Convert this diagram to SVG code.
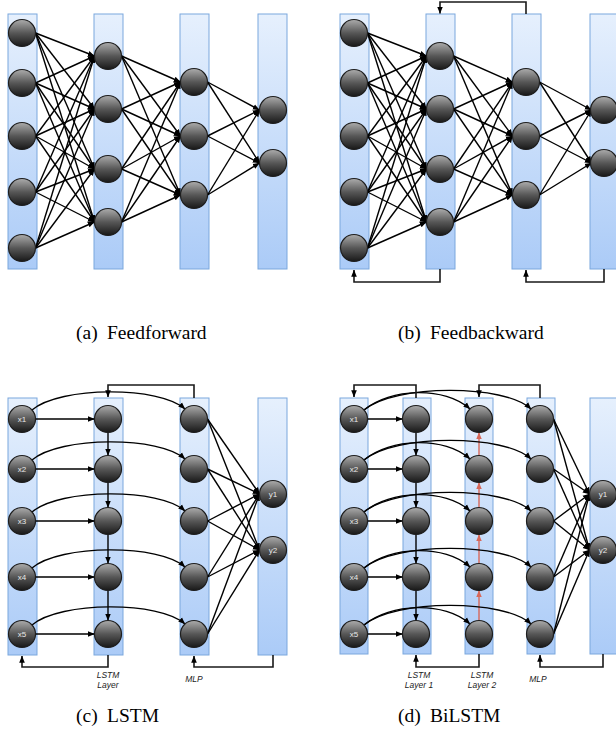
<svg xmlns="http://www.w3.org/2000/svg" width="616" height="733" viewBox="0 0 616 733">
<defs>
<linearGradient id="gBar" x1="0" y1="0" x2="0" y2="1"><stop offset="0" stop-color="#e6f0fd"/><stop offset="1" stop-color="#abcbf7"/></linearGradient>
<linearGradient id="gNode" x1="0" y1="0" x2="0" y2="1"><stop offset="0" stop-color="#acacac"/><stop offset="0.5" stop-color="#575757"/><stop offset="1" stop-color="#181818"/></linearGradient>
<marker id="ah" viewBox="0 0 10 10" refX="9.5" refY="5" markerWidth="7" markerHeight="7" markerUnits="userSpaceOnUse" orient="auto"><path d="M0,1 L10,5 L0,9 z" fill="#000"/></marker>
<marker id="ahr" viewBox="0 0 10 10" refX="9.5" refY="5" markerWidth="7" markerHeight="7" markerUnits="userSpaceOnUse" orient="auto"><path d="M0,1 L10,5 L0,9 z" fill="#d7685a"/></marker>
<style>
.bar{fill:url(#gBar);stroke:#7ba7dd;stroke-width:1}
.nd{fill:url(#gNode);stroke:#1e1e1e;stroke-width:1.2}
.e{stroke:#000;stroke-width:1.4;fill:none;marker-end:url(#ah)}
.er{stroke:#d7685a;stroke-width:1.4;fill:none;marker-end:url(#ahr)}
.fb{stroke:#1a1a1a;stroke-width:1.6;fill:none;marker-end:url(#ah)}
.nt{font-family:"Liberation Sans",Arial,sans-serif;font-size:8px;fill:#e8e8e8;text-anchor:middle}
.lb{font-family:"Liberation Sans",Arial,sans-serif;font-size:8.5px;font-style:italic;fill:#222;text-anchor:middle}
.cap{font-family:"Liberation Serif","Times New Roman",serif;font-size:19.5px;fill:#000}
</style>
</defs>

<!-- Panel (a) -->
<g id="panel-a">
<g id="a-bars">
<rect class="bar" x="8" y="14" width="29" height="255"/>
<rect class="bar" x="94" y="14" width="29" height="255"/>
<rect class="bar" x="180" y="14" width="29" height="255"/>
<rect class="bar" x="258" y="14" width="29" height="255"/>
</g>
<g id="a-edges">
<line class="e" x1="35.5" y1="33" x2="94.5" y2="56"/><line class="e" x1="35.5" y1="33" x2="94.5" y2="109"/><line class="e" x1="35.5" y1="33" x2="94.5" y2="169"/><line class="e" x1="35.5" y1="33" x2="94.5" y2="222"/>
<line class="e" x1="35.5" y1="83" x2="94.5" y2="56"/><line class="e" x1="35.5" y1="83" x2="94.5" y2="109"/><line class="e" x1="35.5" y1="83" x2="94.5" y2="169"/><line class="e" x1="35.5" y1="83" x2="94.5" y2="222"/>
<line class="e" x1="35.5" y1="136" x2="94.5" y2="56"/><line class="e" x1="35.5" y1="136" x2="94.5" y2="109"/><line class="e" x1="35.5" y1="136" x2="94.5" y2="169"/><line class="e" x1="35.5" y1="136" x2="94.5" y2="222"/>
<line class="e" x1="35.5" y1="192" x2="94.5" y2="56"/><line class="e" x1="35.5" y1="192" x2="94.5" y2="109"/><line class="e" x1="35.5" y1="192" x2="94.5" y2="169"/><line class="e" x1="35.5" y1="192" x2="94.5" y2="222"/>
<line class="e" x1="35.5" y1="248" x2="94.5" y2="56"/><line class="e" x1="35.5" y1="248" x2="94.5" y2="109"/><line class="e" x1="35.5" y1="248" x2="94.5" y2="169"/><line class="e" x1="35.5" y1="248" x2="94.5" y2="222"/>
<line class="e" x1="121.5" y1="56" x2="180.5" y2="82"/><line class="e" x1="121.5" y1="56" x2="180.5" y2="136"/><line class="e" x1="121.5" y1="56" x2="180.5" y2="195"/>
<line class="e" x1="121.5" y1="109" x2="180.5" y2="82"/><line class="e" x1="121.5" y1="109" x2="180.5" y2="136"/><line class="e" x1="121.5" y1="109" x2="180.5" y2="195"/>
<line class="e" x1="121.5" y1="169" x2="180.5" y2="82"/><line class="e" x1="121.5" y1="169" x2="180.5" y2="136"/><line class="e" x1="121.5" y1="169" x2="180.5" y2="195"/>
<line class="e" x1="121.5" y1="222" x2="180.5" y2="82"/><line class="e" x1="121.5" y1="222" x2="180.5" y2="136"/><line class="e" x1="121.5" y1="222" x2="180.5" y2="195"/>
<line class="e" x1="207.5" y1="82" x2="259.5" y2="110"/><line class="e" x1="207.5" y1="82" x2="259.5" y2="163"/>
<line class="e" x1="207.5" y1="136" x2="259.5" y2="110"/><line class="e" x1="207.5" y1="136" x2="259.5" y2="163"/>
<line class="e" x1="207.5" y1="195" x2="259.5" y2="110"/><line class="e" x1="207.5" y1="195" x2="259.5" y2="163"/>
</g>
<g id="a-n1"><circle class="nd" cx="22" cy="33" r="13.5"/></g>
<g id="a-n2"><circle class="nd" cx="22" cy="83" r="13.5"/></g>
<g id="a-n3"><circle class="nd" cx="22" cy="136" r="13.5"/></g>
<g id="a-n4"><circle class="nd" cx="22" cy="192" r="13.5"/></g>
<g id="a-n5"><circle class="nd" cx="22" cy="248" r="13.5"/></g>
<g id="a-h1"><circle class="nd" cx="108" cy="56" r="13.5"/></g>
<g id="a-h2"><circle class="nd" cx="108" cy="109" r="13.5"/></g>
<g id="a-h3"><circle class="nd" cx="108" cy="169" r="13.5"/></g>
<g id="a-h4"><circle class="nd" cx="108" cy="222" r="13.5"/></g>
<g id="a-g1"><circle class="nd" cx="194" cy="82" r="13.5"/></g>
<g id="a-g2"><circle class="nd" cx="194" cy="136" r="13.5"/></g>
<g id="a-g3"><circle class="nd" cx="194" cy="195" r="13.5"/></g>
<g id="a-o1"><circle class="nd" cx="273" cy="110" r="13.5"/></g>
<g id="a-o2"><circle class="nd" cx="273" cy="163" r="13.5"/></g>
</g>

<!-- Panel (b) -->
<g id="panel-b" transform="translate(332,0)">
<g id="b-bars">
<rect class="bar" x="8" y="14" width="29" height="255"/>
<rect class="bar" x="94" y="14" width="29" height="255"/>
<rect class="bar" x="180" y="14" width="29" height="255"/>
<rect class="bar" x="258" y="14" width="29" height="255"/>
</g>
<g id="b-edges">
<line class="e" x1="35.5" y1="33" x2="94.5" y2="56"/><line class="e" x1="35.5" y1="33" x2="94.5" y2="109"/><line class="e" x1="35.5" y1="33" x2="94.5" y2="169"/><line class="e" x1="35.5" y1="33" x2="94.5" y2="222"/>
<line class="e" x1="35.5" y1="83" x2="94.5" y2="56"/><line class="e" x1="35.5" y1="83" x2="94.5" y2="109"/><line class="e" x1="35.5" y1="83" x2="94.5" y2="169"/><line class="e" x1="35.5" y1="83" x2="94.5" y2="222"/>
<line class="e" x1="35.5" y1="136" x2="94.5" y2="56"/><line class="e" x1="35.5" y1="136" x2="94.5" y2="109"/><line class="e" x1="35.5" y1="136" x2="94.5" y2="169"/><line class="e" x1="35.5" y1="136" x2="94.5" y2="222"/>
<line class="e" x1="35.5" y1="192" x2="94.5" y2="56"/><line class="e" x1="35.5" y1="192" x2="94.5" y2="109"/><line class="e" x1="35.5" y1="192" x2="94.5" y2="169"/><line class="e" x1="35.5" y1="192" x2="94.5" y2="222"/>
<line class="e" x1="35.5" y1="248" x2="94.5" y2="56"/><line class="e" x1="35.5" y1="248" x2="94.5" y2="109"/><line class="e" x1="35.5" y1="248" x2="94.5" y2="169"/><line class="e" x1="35.5" y1="248" x2="94.5" y2="222"/>
<line class="e" x1="121.5" y1="56" x2="180.5" y2="82"/><line class="e" x1="121.5" y1="56" x2="180.5" y2="136"/><line class="e" x1="121.5" y1="56" x2="180.5" y2="195"/>
<line class="e" x1="121.5" y1="109" x2="180.5" y2="82"/><line class="e" x1="121.5" y1="109" x2="180.5" y2="136"/><line class="e" x1="121.5" y1="109" x2="180.5" y2="195"/>
<line class="e" x1="121.5" y1="169" x2="180.5" y2="82"/><line class="e" x1="121.5" y1="169" x2="180.5" y2="136"/><line class="e" x1="121.5" y1="169" x2="180.5" y2="195"/>
<line class="e" x1="121.5" y1="222" x2="180.5" y2="82"/><line class="e" x1="121.5" y1="222" x2="180.5" y2="136"/><line class="e" x1="121.5" y1="222" x2="180.5" y2="195"/>
<line class="e" x1="207.5" y1="82" x2="259.5" y2="110"/><line class="e" x1="207.5" y1="82" x2="259.5" y2="163"/>
<line class="e" x1="207.5" y1="136" x2="259.5" y2="110"/><line class="e" x1="207.5" y1="136" x2="259.5" y2="163"/>
<line class="e" x1="207.5" y1="195" x2="259.5" y2="110"/><line class="e" x1="207.5" y1="195" x2="259.5" y2="163"/>
<path class="fb" d="M194,14 V2 H108 V13.5"/>
<path class="fb" d="M108,269 V282 H22 V270"/>
<path class="fb" d="M272,269 V282 H194 V270"/>
</g>
<g id="b-n1"><circle class="nd" cx="22" cy="33" r="13.5"/></g>
<g id="b-n2"><circle class="nd" cx="22" cy="83" r="13.5"/></g>
<g id="b-n3"><circle class="nd" cx="22" cy="136" r="13.5"/></g>
<g id="b-n4"><circle class="nd" cx="22" cy="192" r="13.5"/></g>
<g id="b-n5"><circle class="nd" cx="22" cy="248" r="13.5"/></g>
<g id="b-h1"><circle class="nd" cx="108" cy="56" r="13.5"/></g>
<g id="b-h2"><circle class="nd" cx="108" cy="109" r="13.5"/></g>
<g id="b-h3"><circle class="nd" cx="108" cy="169" r="13.5"/></g>
<g id="b-h4"><circle class="nd" cx="108" cy="222" r="13.5"/></g>
<g id="b-g1"><circle class="nd" cx="194" cy="82" r="13.5"/></g>
<g id="b-g2"><circle class="nd" cx="194" cy="136" r="13.5"/></g>
<g id="b-g3"><circle class="nd" cx="194" cy="195" r="13.5"/></g>
<g id="b-o1"><circle class="nd" cx="272" cy="110" r="13.5"/></g>
<g id="b-o2"><circle class="nd" cx="272" cy="163" r="13.5"/></g>
</g>

<!-- Panel (c) -->
<g id="panel-c">
<g id="c-bars">
<rect class="bar" x="8" y="398" width="29" height="257"/>
<rect class="bar" x="94" y="398" width="29" height="257"/>
<rect class="bar" x="180" y="398" width="29" height="257"/>
<rect class="bar" x="258" y="398" width="29" height="257"/>
</g>
<g id="c-edges">
<line class="e" x1="35.5" y1="419" x2="94.5" y2="419"/>
<line class="e" x1="35.5" y1="469" x2="94.5" y2="469"/>
<line class="e" x1="35.5" y1="521" x2="94.5" y2="521"/>
<line class="e" x1="35.5" y1="577" x2="94.5" y2="577"/>
<line class="e" x1="35.5" y1="634" x2="94.5" y2="634"/>
<line class="e" x1="108" y1="432.5" x2="108" y2="455.5"/>
<line class="e" x1="108" y1="482.5" x2="108" y2="507.5"/>
<line class="e" x1="108" y1="534.5" x2="108" y2="563.5"/>
<line class="e" x1="108" y1="590.5" x2="108" y2="620.5"/>
<path class="e" d="M32,410 C60,386 160,386 185,409"/>
<path class="e" d="M32,460 C60,436 160,436 185,459"/>
<path class="e" d="M32,512 C60,488 160,488 185,511"/>
<path class="e" d="M32,568 C60,544 160,544 185,567"/>
<path class="e" d="M32,625 C60,601 160,601 185,624"/>
<line class="e" x1="207.5" y1="419" x2="259.5" y2="494"/><line class="e" x1="207.5" y1="419" x2="259.5" y2="550"/>
<line class="e" x1="207.5" y1="469" x2="259.5" y2="494"/><line class="e" x1="207.5" y1="469" x2="259.5" y2="550"/>
<line class="e" x1="207.5" y1="521" x2="259.5" y2="494"/><line class="e" x1="207.5" y1="521" x2="259.5" y2="550"/>
<line class="e" x1="207.5" y1="577" x2="259.5" y2="494"/><line class="e" x1="207.5" y1="577" x2="259.5" y2="550"/>
<line class="e" x1="207.5" y1="634" x2="259.5" y2="494"/><line class="e" x1="207.5" y1="634" x2="259.5" y2="550"/>
<path class="fb" d="M194,398 V385 H108 V397"/>
<path class="fb" d="M108,655 V667 H22 V656"/>
<path class="fb" d="M273,655 V667 H194 V656"/>
</g>
<g id="c-x1"><circle class="nd" cx="22" cy="419" r="13.5"/><text class="nt" x="22" y="422">x1</text></g>
<g id="c-x2"><circle class="nd" cx="22" cy="469" r="13.5"/><text class="nt" x="22" y="472">x2</text></g>
<g id="c-x3"><circle class="nd" cx="22" cy="521" r="13.5"/><text class="nt" x="22" y="524">x3</text></g>
<g id="c-x4"><circle class="nd" cx="22" cy="577" r="13.5"/><text class="nt" x="22" y="580">x4</text></g>
<g id="c-x5"><circle class="nd" cx="22" cy="634" r="13.5"/><text class="nt" x="22" y="637">x5</text></g>
<g id="c-l1"><circle class="nd" cx="108" cy="419" r="13.5"/></g>
<g id="c-l2"><circle class="nd" cx="108" cy="469" r="13.5"/></g>
<g id="c-l3"><circle class="nd" cx="108" cy="521" r="13.5"/></g>
<g id="c-l4"><circle class="nd" cx="108" cy="577" r="13.5"/></g>
<g id="c-l5"><circle class="nd" cx="108" cy="634" r="13.5"/></g>
<g id="c-m1"><circle class="nd" cx="194" cy="419" r="13.5"/></g>
<g id="c-m2"><circle class="nd" cx="194" cy="469" r="13.5"/></g>
<g id="c-m3"><circle class="nd" cx="194" cy="521" r="13.5"/></g>
<g id="c-m4"><circle class="nd" cx="194" cy="577" r="13.5"/></g>
<g id="c-m5"><circle class="nd" cx="194" cy="634" r="13.5"/></g>
<g id="c-y1"><circle class="nd" cx="273" cy="494" r="13.5"/><text class="nt" x="273" y="497">y1</text></g>
<g id="c-y2"><circle class="nd" cx="273" cy="550" r="13.5"/><text class="nt" x="273" y="553">y2</text></g>
<g id="c-labels">
<text class="lb" x="108" y="678">LSTM</text><text class="lb" x="108" y="688">Layer</text>
<text class="lb" x="194" y="682">MLP</text>
</g>
</g>

<!-- Panel (d) -->
<g id="panel-d">
<g id="d-bars">
<rect class="bar" x="340" y="398" width="28" height="256"/>
<rect class="bar" x="403" y="398" width="28" height="256"/>
<rect class="bar" x="465" y="398" width="28" height="256"/>
<rect class="bar" x="527" y="398" width="28" height="256"/>
<rect class="bar" x="590" y="398" width="28" height="256"/>
</g>
<g id="d-edges">
<line class="e" x1="367.5" y1="419" x2="402.5" y2="419"/>
<line class="e" x1="367.5" y1="469" x2="402.5" y2="469"/>
<line class="e" x1="367.5" y1="521" x2="402.5" y2="521"/>
<line class="e" x1="367.5" y1="577" x2="402.5" y2="577"/>
<line class="e" x1="367.5" y1="634" x2="402.5" y2="634"/>
<line class="e" x1="416" y1="432.5" x2="416" y2="455.5"/>
<line class="e" x1="416" y1="482.5" x2="416" y2="507.5"/>
<line class="e" x1="416" y1="534.5" x2="416" y2="563.5"/>
<line class="e" x1="416" y1="590.5" x2="416" y2="620.5"/>
<line class="er" x1="479" y1="455.5" x2="479" y2="432.5"/>
<line class="er" x1="479" y1="507.5" x2="479" y2="482.5"/>
<line class="er" x1="479" y1="563.5" x2="479" y2="534.5"/>
<line class="er" x1="479" y1="620.5" x2="479" y2="590.5"/>
<path class="e" d="M364,410 C390,388 445,386 470,409"/>
<path class="e" d="M364,410 C395,384 505,384 531,409"/>
<path class="e" d="M364,460 C390,438 445,436 470,459"/>
<path class="e" d="M364,460 C395,434 505,434 531,459"/>
<path class="e" d="M364,512 C390,490 445,488 470,511"/>
<path class="e" d="M364,512 C395,486 505,486 531,511"/>
<path class="e" d="M364,568 C390,546 445,544 470,567"/>
<path class="e" d="M364,568 C395,542 505,542 531,567"/>
<path class="e" d="M364,625 C390,603 445,601 470,624"/>
<path class="e" d="M364,625 C395,599 505,599 531,624"/>
<line class="e" x1="553.5" y1="419" x2="589.5" y2="494"/><line class="e" x1="553.5" y1="419" x2="589.5" y2="550"/>
<line class="e" x1="553.5" y1="469" x2="589.5" y2="494"/><line class="e" x1="553.5" y1="469" x2="589.5" y2="550"/>
<line class="e" x1="553.5" y1="521" x2="589.5" y2="494"/><line class="e" x1="553.5" y1="521" x2="589.5" y2="550"/>
<line class="e" x1="553.5" y1="577" x2="589.5" y2="494"/><line class="e" x1="553.5" y1="577" x2="589.5" y2="550"/>
<line class="e" x1="553.5" y1="634" x2="589.5" y2="494"/><line class="e" x1="553.5" y1="634" x2="589.5" y2="550"/>
<path class="fb" d="M416,398 V385 H354 V397"/>
<path class="fb" d="M540,398 V385 H479 V397"/>
<path class="fb" d="M479,654 V667 H416 V655"/>
<path class="fb" d="M603,654 V667 H540 V655"/>
</g>
<g id="d-x1"><circle class="nd" cx="354" cy="419" r="13.5"/><text class="nt" x="354" y="422">x1</text></g>
<g id="d-x2"><circle class="nd" cx="354" cy="469" r="13.5"/><text class="nt" x="354" y="472">x2</text></g>
<g id="d-x3"><circle class="nd" cx="354" cy="521" r="13.5"/><text class="nt" x="354" y="524">x3</text></g>
<g id="d-x4"><circle class="nd" cx="354" cy="577" r="13.5"/><text class="nt" x="354" y="580">x4</text></g>
<g id="d-x5"><circle class="nd" cx="354" cy="634" r="13.5"/><text class="nt" x="354" y="637">x5</text></g>
<g id="d-a1"><circle class="nd" cx="416" cy="419" r="13.5"/></g>
<g id="d-a2"><circle class="nd" cx="416" cy="469" r="13.5"/></g>
<g id="d-a3"><circle class="nd" cx="416" cy="521" r="13.5"/></g>
<g id="d-a4"><circle class="nd" cx="416" cy="577" r="13.5"/></g>
<g id="d-a5"><circle class="nd" cx="416" cy="634" r="13.5"/></g>
<g id="d-b1"><circle class="nd" cx="479" cy="419" r="13.5"/></g>
<g id="d-b2"><circle class="nd" cx="479" cy="469" r="13.5"/></g>
<g id="d-b3"><circle class="nd" cx="479" cy="521" r="13.5"/></g>
<g id="d-b4"><circle class="nd" cx="479" cy="577" r="13.5"/></g>
<g id="d-b5"><circle class="nd" cx="479" cy="634" r="13.5"/></g>
<g id="d-m1"><circle class="nd" cx="540" cy="419" r="13.5"/></g>
<g id="d-m2"><circle class="nd" cx="540" cy="469" r="13.5"/></g>
<g id="d-m3"><circle class="nd" cx="540" cy="521" r="13.5"/></g>
<g id="d-m4"><circle class="nd" cx="540" cy="577" r="13.5"/></g>
<g id="d-m5"><circle class="nd" cx="540" cy="634" r="13.5"/></g>
<g id="d-y1"><circle class="nd" cx="603" cy="494" r="13.5"/><text class="nt" x="603" y="497">y1</text></g>
<g id="d-y2"><circle class="nd" cx="603" cy="550" r="13.5"/><text class="nt" x="603" y="553">y2</text></g>
<g id="d-labels">
<text class="lb" x="419" y="678">LSTM</text><text class="lb" x="419" y="688">Layer 1</text>
<text class="lb" x="482" y="678">LSTM</text><text class="lb" x="482" y="688">Layer 2</text>
<text class="lb" x="538" y="682">MLP</text>
</g>
</g>

<g id="captions">
<text class="cap" x="76" y="339">(a)</text><text class="cap" x="107" y="339">Feedforward</text>
<text class="cap" x="398" y="339">(b)</text><text class="cap" x="430" y="339">Feedbackward</text>
<text class="cap" x="76" y="722">(c)</text><text class="cap" x="107" y="722">LSTM</text>
<text class="cap" x="398" y="722">(d)</text><text class="cap" x="430" y="722">BiLSTM</text>
</g>
</svg>
